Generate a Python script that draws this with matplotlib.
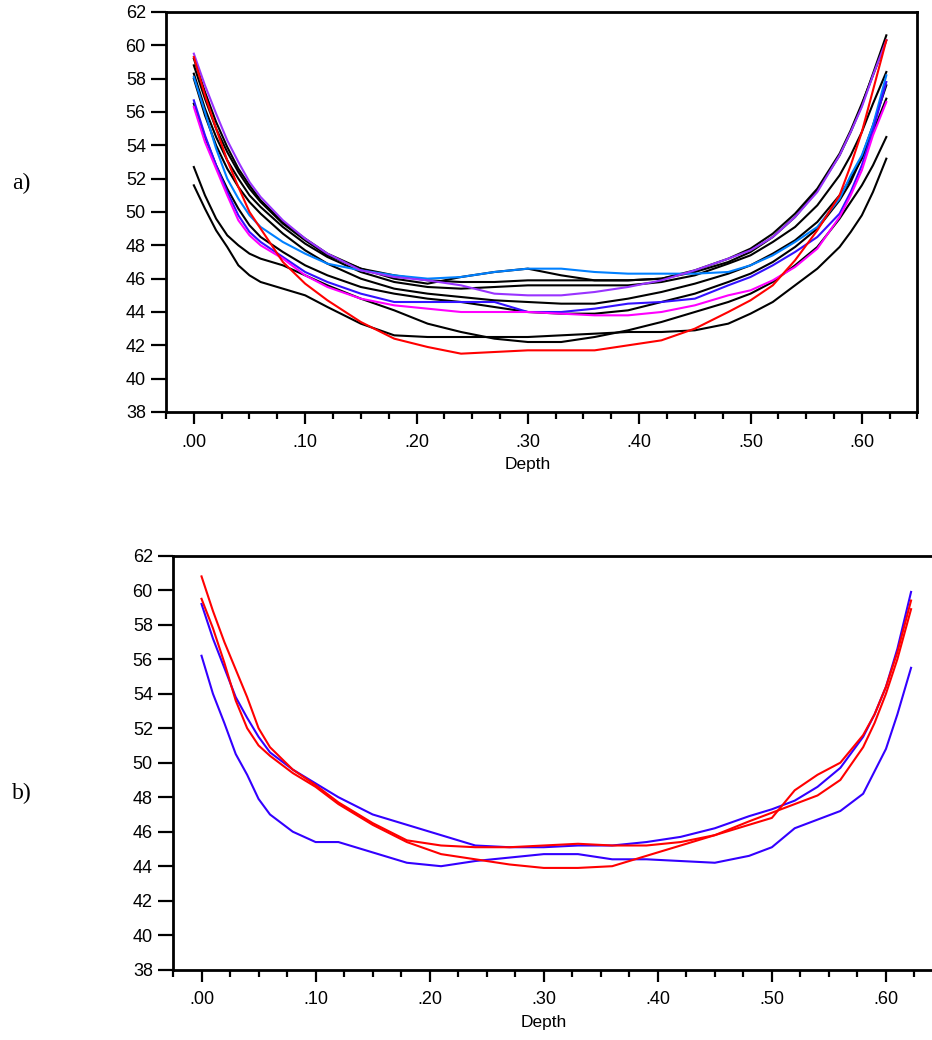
import matplotlib
matplotlib.use("Agg")
from matplotlib import pyplot as plt
from matplotlib.ticker import MultipleLocator, FuncFormatter

plt.rcParams['font.family'] = ['Liberation Sans', 'DejaVu Sans']

depth = [0, .01, .02, .03, .04, .05, .06, .08, .10, .12, .15, .18, .21, .24, .27,
         .30, .33, .36, .39, .42, .45, .48, .50, .52, .54, .56, .58, .59, .60, .61, .622]

# ---- panel a) ----
a_black1 = [58.8, 56.8, 55.0, 53.6, 52.4, 51.4, 50.6, 49.3, 48.3, 47.4, 46.6, 46.2, 45.9, 45.8, 45.8,
            45.9, 45.9, 45.9, 45.9, 46.0, 46.4, 47.0, 47.6, 48.5, 49.7, 51.3, 53.4, 54.8, 56.4, 58.3, 60.6]
a_black2 = [59.2, 57.2, 55.4, 53.9, 52.6, 51.6, 50.7, 49.4, 48.4, 47.5, 46.6, 46.0, 45.7, 46.1, 46.4,
            46.6, 46.2, 45.9, 45.9, 46.0, 46.5, 47.2, 47.8, 48.7, 49.9, 51.4, 53.5, 54.9, 56.5, 58.2, 60.3]
a_black3 = [58.3, 56.2, 54.5, 53.1, 52.0, 51.0, 50.3, 49.1, 48.1, 47.3, 46.4, 45.8, 45.5, 45.4, 45.5,
            45.6, 45.6, 45.6, 45.6, 45.8, 46.2, 46.9, 47.4, 48.2, 49.1, 50.4, 52.2, 53.4, 54.8, 56.5, 58.4]
a_black4 = [58.0, 55.8, 54.0, 52.6, 51.5, 50.6, 49.9, 48.7, 47.7, 46.9, 46.0, 45.4, 45.1, 44.9, 44.7,
            44.6, 44.5, 44.5, 44.8, 45.2, 45.7, 46.3, 46.8, 47.5, 48.3, 49.4, 51.0, 52.0, 53.2, 54.8, 56.8]
a_black5 = [56.5, 54.5, 52.8, 51.4, 50.2, 49.2, 48.5, 47.6, 46.8, 46.2, 45.5, 45.1, 44.8, 44.6, 44.3,
            44.0, 43.9, 43.9, 44.1, 44.6, 45.1, 45.8, 46.3, 47.0, 47.9, 49.0, 50.7, 51.8, 53.3, 55.2, 57.6]
a_black6 = [52.7, 51.0, 49.6, 48.6, 48.0, 47.5, 47.2, 46.8, 46.2, 45.6, 44.8, 44.1, 43.3, 42.8, 42.4,
            42.2, 42.2, 42.5, 42.9, 43.4, 44.0, 44.6, 45.1, 45.8, 46.8, 47.9, 49.6, 50.6, 51.6, 52.8, 54.5]
a_black7 = [51.6, 50.2, 48.9, 47.9, 46.8, 46.2, 45.8, 45.4, 45.0, 44.3, 43.3, 42.6, 42.5, 42.5, 42.5,
            42.5, 42.6, 42.7, 42.8, 42.8, 42.9, 43.3, 43.9, 44.6, 45.6, 46.6, 47.9, 48.8, 49.8, 51.2, 53.2]
a_red = [59.3, 57.0, 55.0, 53.1, 51.5, 50.0, 49.0, 47.0, 45.7, 44.7, 43.4, 42.4, 41.9, 41.5, 41.6,
         41.7, 41.7, 41.7, 42.0, 42.3, 43.0, 44.0, 44.7, 45.6, 47.1, 48.9, 51.0, 52.8, 54.8, 57.3, 60.3]
a_violet = [59.5, 57.6, 55.9, 54.3, 53.0, 51.8, 50.9, 49.5, 48.4, 47.5, 46.5, 46.1, 45.9, 45.6, 45.1,
            45.0, 45.0, 45.2, 45.5, 45.9, 46.5, 47.2, 47.7, 48.5, 49.7, 51.2, 53.4, 54.8, 56.3, 58.2, 60.3]
a_skyblue = [58.1, 56.0, 53.8, 52.0, 50.8, 49.8, 49.1, 48.2, 47.5, 46.9, 46.5, 46.2, 46.0, 46.1, 46.4,
             46.6, 46.6, 46.4, 46.3, 46.3, 46.3, 46.4, 46.8, 47.4, 48.2, 49.1, 50.8, 52.2, 53.4, 55.2, 58.2]
a_blue = [56.7, 54.6, 52.8, 51.2, 49.8, 48.8, 48.2, 47.3, 46.4, 45.8, 45.1, 44.6, 44.6, 44.6, 44.6,
          44.0, 44.0, 44.2, 44.5, 44.6, 44.8, 45.6, 46.1, 46.8, 47.6, 48.5, 49.9, 51.2, 52.8, 54.9, 57.8]
a_magenta = [56.3, 54.2, 52.6, 51.0, 49.5, 48.6, 48.0, 47.2, 46.2, 45.5, 44.8, 44.4, 44.2, 44.0, 44.0,
             44.0, 43.9, 43.8, 43.8, 44.0, 44.4, 45.0, 45.3, 45.9, 46.7, 47.8, 49.7, 51.0, 52.5, 54.6, 56.6]

# ---- panel b) ----
b_red1 = [60.8, 58.8, 57.0, 55.4, 53.8, 52.0, 50.9, 49.6, 48.7, 47.7, 46.5, 45.5, 45.2, 45.1, 45.1,
          45.2, 45.3, 45.2, 45.2, 45.4, 45.8, 46.4, 46.8, 48.4, 49.3, 50.0, 51.6, 52.8, 54.4, 56.4, 59.4]
b_red2 = [59.5, 57.8, 55.8, 53.6, 52.0, 51.0, 50.4, 49.4, 48.6, 47.6, 46.4, 45.4, 44.7, 44.4, 44.1,
          43.9, 43.9, 44.0, 44.6, 45.2, 45.8, 46.6, 47.1, 47.6, 48.1, 49.0, 50.9, 52.3, 54.0, 56.0, 58.9]
b_blue1 = [59.2, 57.2, 55.5, 53.8, 52.6, 51.5, 50.6, 49.6, 48.8, 48.0, 47.0, 46.4, 45.8, 45.2, 45.1,
           45.1, 45.2, 45.2, 45.4, 45.7, 46.2, 46.9, 47.3, 47.8, 48.6, 49.7, 51.5, 52.8, 54.4, 56.6, 59.9]
b_blue2 = [56.2, 54.0, 52.3, 50.5, 49.3, 47.9, 47.0, 46.0, 45.4, 45.4, 44.8, 44.2, 44.0, 44.3, 44.5,
           44.7, 44.7, 44.4, 44.4, 44.3, 44.2, 44.6, 45.1, 46.2, 46.7, 47.2, 48.2, 49.5, 50.8, 52.8, 55.5]

yticks = list(range(38, 63, 2))


def setup(ax, right_spine=True):
    ax.set_xlim(-0.025, 0.65)
    ax.set_ylim(38, 62)
    ax.set_yticks(yticks)
    ax.xaxis.set_major_locator(MultipleLocator(0.1))
    ax.xaxis.set_minor_locator(MultipleLocator(0.025))
    ax.xaxis.set_major_formatter(FuncFormatter(lambda v, p: ("%.2f" % v).lstrip("0")))
    ax.tick_params(axis='y', which='major', direction='out', length=10.5, width=1.6,
                   pad=4, labelsize=13)
    ax.tick_params(axis='x', which='major', direction='out', length=8.5, width=1.6,
                   pad=7, labelsize=13)
    ax.tick_params(axis='x', which='minor', direction='out', length=5, width=1.6)
    for s in ax.spines.values():
        s.set_linewidth(2.0)
    if not right_spine:
        ax.spines['right'].set_visible(False)
    ax.set_xlabel("Depth", fontsize=12.5, labelpad=5)
    ax.xaxis.label.set_x((0.30 + 0.025) / 0.675)


fig = plt.figure(figsize=(9.32, 10.4), dpi=100)

# panel a)
ax1 = fig.add_axes([166 / 932, 1 - 412 / 1040, 751.5 / 932, 400 / 1040])
for ys in [a_black1, a_black2, a_black3, a_black4, a_black5, a_black6, a_black7]:
    ax1.plot(depth, ys, color='black', lw=1.5)
ax1.plot(depth, a_skyblue, color='#0080FF', lw=1.5)
ax1.plot(depth, a_blue, color='#3311FF', lw=1.5)
ax1.plot(depth, a_magenta, color='#FF00FF', lw=1.5)
ax1.plot(depth, a_violet, color='#9933FF', lw=1.5)
ax1.plot(depth, a_red, color='#FF0000', lw=1.5)
setup(ax1)

# panel b)
ax2 = fig.add_axes([173 / 932, 1 - 969.7 / 1040, 770 / 932, 414 / 1040])
ax2.plot(depth, b_blue2, color='#3300FF', lw=1.5)
ax2.plot(depth, b_blue1, color='#3300FF', lw=1.5)
ax2.plot(depth, b_red2, color='#FF0000', lw=1.5)
ax2.plot(depth, b_red1, color='#FF0000', lw=1.5)
setup(ax2, right_spine=False)

fig.text(12 / 932, 1 - 183 / 1040, "a)", family=['Liberation Serif', 'DejaVu Serif'],
         fontsize=17, va='center', ha='left')
fig.text(12 / 932, 1 - 793 / 1040, "b)", family=['Liberation Serif', 'DejaVu Serif'],
         fontsize=17, va='center', ha='left')

fig.savefig("out.png", dpi=100)
